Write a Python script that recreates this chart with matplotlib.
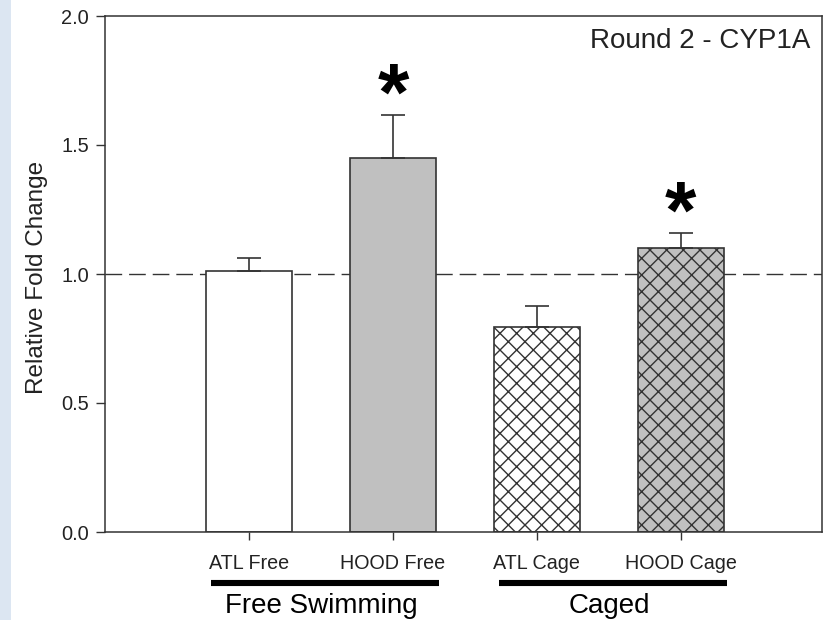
import matplotlib
matplotlib.use("Agg")
import matplotlib.pyplot as plt
from matplotlib.lines import Line2D
from matplotlib.patches import Rectangle
import matplotlib.transforms as mtransforms

plt.rcParams['font.family'] = ['Liberation Sans', 'DejaVu Sans']
plt.rcParams['hatch.linewidth'] = 1.0
plt.rcParams['hatch.color'] = '#3a3a3a'

# Data
categories = ["ATL Free", "HOOD Free", "ATL Cage", "HOOD Cage"]
fold_change = [1.012, 1.451, 0.796, 1.102]
sem_upper = [0.051, 0.165, 0.080, 0.058]
significant = [False, True, False, True]
groups = ["Free Swimming", "Caged"]
group_members = [[0, 1], [2, 3]]
yticks = [0.0, 0.5, 1.0, 1.5, 2.0]
title = "Round 2 - CYP1A"
ylabel = "Relative Fold Change"

# Styles per bar
fills = ['white', '#c0c0c0', 'white', '#c0c0c0']
hatches = [None, None, 'xx', 'xx']

fig = plt.figure(figsize=(8.33, 6.2), dpi=100)
fig.patches.append(Rectangle((0, 0), 11 / 833, 1, transform=fig.transFigure,
                             facecolor='#dce6f2', edgecolor='none', zorder=0))

ax = fig.add_axes([105 / 833, 88 / 620, (822 - 105) / 833, (532 - 16) / 620])
x = [i + 1 for i in range(len(categories))]

# Reference line at no change
ax.axhline(1.0, color='#333333', lw=1.0, dashes=(12, 5), zorder=1)

bars = ax.bar(x, fold_change, width=0.6, color=fills, edgecolor='#333333',
              linewidth=1.2, zorder=2)
for b, h in zip(bars, hatches):
    if h:
        b.set_hatch(h)

ax.errorbar(x, fold_change, yerr=[[0] * len(x), sem_upper], fmt='none',
            ecolor='#333333', elinewidth=1.2, capsize=8.6, capthick=1.2, zorder=3)

for xi, v, e, s in zip(x, fold_change, sem_upper, significant):
    if s:
        ax.annotate('*', xy=(xi, v + e), xytext=(0, -3.5), textcoords='offset points',
                    ha='center', va='baseline', fontsize=58, fontweight='bold',
                    color='black')

ax.set_xlim(0, 4.98)
ax.set_ylim(0, 2.0)
ax.set_yticks(yticks)
ax.set_yticklabels([f"{t:.1f}" for t in yticks])
ax.set_xticks(x)
ax.set_xticklabels(categories)
ax.tick_params(axis='y', direction='out', length=6.5, width=1, color='#333333',
               labelsize=14.4, pad=5, labelcolor='#222222')
ax.tick_params(axis='x', direction='out', length=6, width=1, color='#333333',
               labelsize=14.2, pad=9.5, labelcolor='#222222')
for sp in ax.spines.values():
    sp.set_color('#333333')
    sp.set_linewidth(1.1)

fig.text(37 / 833, (620 - 277) / 620, ylabel, rotation=90, ha='center', va='center',
         fontsize=17.5, color='#222222')
fig.text(810 / 833, (620 - 48) / 620, title, ha='right', va='baseline',
         fontsize=20, color='#222222')

# Group underlines and labels
blend = mtransforms.blended_transform_factory(ax.transData, fig.transFigure)
for name, members in zip(groups, group_members):
    left = x[members[0]] - 0.265
    right = x[members[-1]] + 0.32
    fig.add_artist(Line2D([left, right], [(620 - 583) / 620] * 2, transform=blend,
                          color='black', lw=4.4, solid_capstyle='butt'))
    mid = (x[members[0]] + x[members[-1]]) / 2
    fig.text(mid, (620 - 613.3) / 620, name, transform=blend, ha='center',
             va='baseline', fontsize=20, color='black')

fig.savefig('out.png', dpi=100)
